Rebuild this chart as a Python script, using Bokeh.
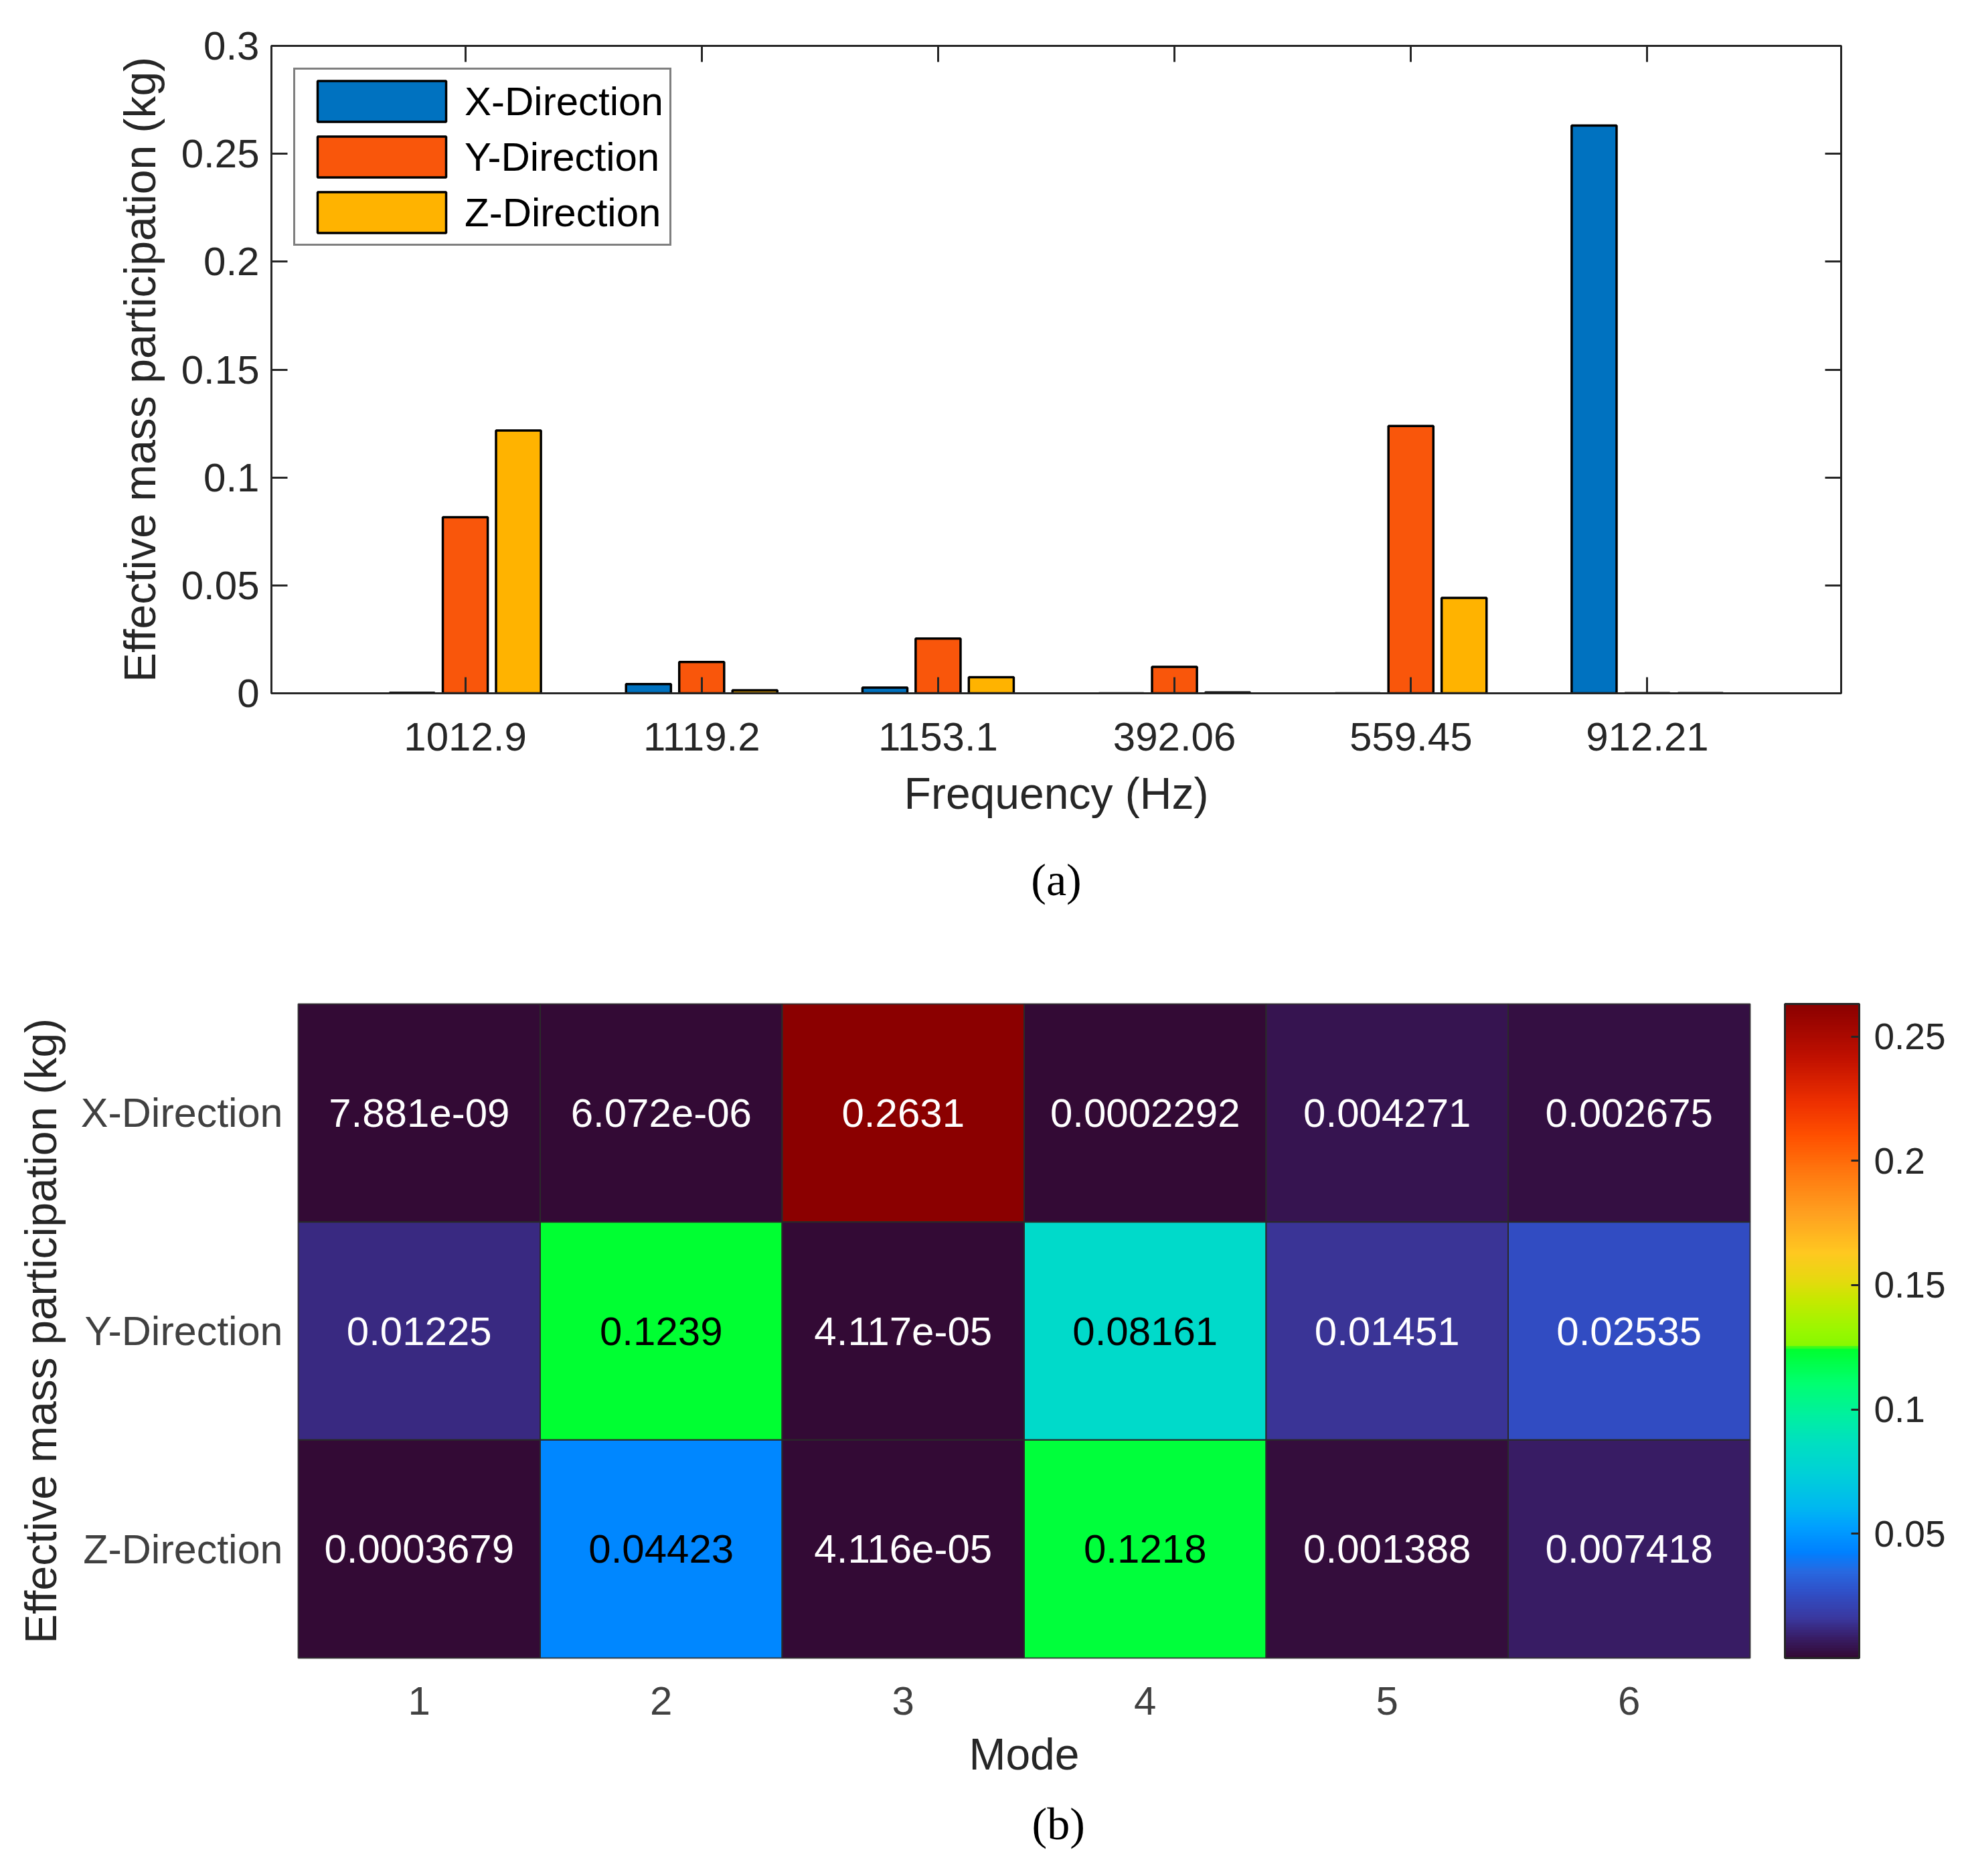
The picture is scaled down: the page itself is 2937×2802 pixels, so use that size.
from bokeh.plotting import figure
from bokeh.models import (ColumnDataSource, FactorRange, Range1d, LinearAxis, CategoricalAxis,
                          FixedTicker, NumeralTickFormatter, LinearColorMapper, ColorBar, Title)
from bokeh.transform import dodge
from bokeh.core.properties import value
from bokeh.embed import file_html
from bokeh.resources import INLINE

# data: effective mass participation per mode
modes = ["1", "2", "3", "4", "5", "6"]
freqs = ["392.06", "559.45", "912.21", "1012.9", "1119.2", "1153.1"]
directions = ["X-Direction", "Y-Direction", "Z-Direction"]
x_mass = [7.881e-09, 6.072e-06, 0.2631, 0.0002292, 0.004271, 0.002675]
y_mass = [0.01225, 0.1239, 4.117e-05, 0.08161, 0.01451, 0.02535]
z_mass = [0.0003679, 0.04423, 4.116e-05, 0.1218, 0.001388, 0.007418]
y_ticks = [0, 0.05, 0.1, 0.15, 0.2, 0.25, 0.3]
cbar_ticks = [0.05, 0.1, 0.15, 0.2, 0.25]

FONT = "Liberation Sans"
SERIF = "Liberation Serif"
INK = "#262626"
bar_colors = ["#0072c0", "#f9560b", "#ffb300"]

# colormap stops (position, color)
stops = [(0.0, "#330a35"), (0.03, "#381e68"), (0.06, "#3a38a0"), (0.10, "#3050c8"),
         (0.13, "#2868e0"), (0.16, "#0080ff"), (0.20, "#00a0ff"), (0.23, "#00b8f0"),
         (0.28, "#00d0d8"), (0.33, "#00e0c0"), (0.37, "#00f0a0"), (0.42, "#00ff70"),
         (0.472, "#00ff30"), (0.478, "#88f800"), (0.50, "#98f800"), (0.55, "#c8e800"),
         (0.58, "#e8d810"), (0.62, "#ffc820"), (0.68, "#ffa020"), (0.74, "#ff7a10"),
         (0.80, "#ff5000"), (0.85, "#ee3000"), (0.92, "#c01000"), (1.0, "#8b0000")]


def hex2rgb(h):
    return [int(h[i:i + 2], 16) for i in (1, 3, 5)]


palette = []
for i in range(256):
    t = i / 255
    for (p0, c0), (p1_, c1) in zip(stops[:-1], stops[1:]):
        if p0 <= t <= p1_:
            f = (t - p0) / (p1_ - p0)
            a, b = hex2rgb(c0), hex2rgb(c1)
            palette.append("#%02x%02x%02x" % tuple(round(a[k] + (b[k] - a[k]) * f) for k in range(3)))
            break


def style_axis(ax, size="60px"):
    ax.major_label_text_font = FONT
    ax.major_label_text_font_size = size
    ax.major_label_text_color = INK
    ax.axis_label_text_font = FONT
    ax.axis_label_text_font_size = "66px"
    ax.axis_label_text_font_style = "normal"
    ax.axis_label_text_color = INK


# ---------------- (a) grouped bars ----------------
p1 = figure(width=2920, height=1400,
            x_range=FactorRange(factors=sorted(freqs), range_padding=0.32, range_padding_units="absolute"),
            y_range=Range1d(0, 0.3),
            output_backend="svg", toolbar_location=None,
            min_border_left=405, min_border_right=170, min_border_top=68, min_border_bottom=360)
p1.background_fill_color = "white"
p1.border_fill_color = "white"
p1.outline_line_color = INK
p1.outline_line_width = 3
p1.grid.visible = False

src = ColumnDataSource(dict(freq=freqs, x=x_mass, y=y_mass, z=z_mass))
for col, off, color, name in zip(["x", "y", "z"], [-0.225, 0.0, 0.225], bar_colors, directions):
    p1.vbar(x=dodge("freq", off, range=p1.x_range), top=col, width=0.19, source=src,
            fill_color=color, line_color="black", line_width=3.5, legend_label=name)

xa = p1.xaxis[0]
ya = p1.yaxis[0]
style_axis(xa)
style_axis(ya)
xa.axis_label = "Frequency (Hz)"
ya.axis_label = "Effective mass participation (kg)"
ya.ticker = FixedTicker(ticks=y_ticks)
ya.formatter = NumeralTickFormatter(format="0.[00]")
for ax in (xa, ya):
    ax.major_tick_in = 24
    ax.major_tick_out = 0
    ax.minor_tick_line_color = None
    ax.axis_line_color = INK
    ax.axis_line_width = 3
    ax.major_tick_line_color = INK
    ax.major_tick_line_width = 3
xa.major_label_standoff = 44
ya.major_label_standoff = 18
xa.axis_label_standoff = 24
ya.axis_label_standoff = 22

# box ticks on top and right, no labels
ra = LinearAxis(ticker=FixedTicker(ticks=y_ticks))
ta = CategoricalAxis()
for ax in (ra, ta):
    ax.major_tick_in = 24
    ax.major_tick_out = 0
    ax.minor_tick_line_color = None
    ax.major_tick_line_color = INK
    ax.major_tick_line_width = 3
    ax.axis_line_color = None
    ax.major_label_text_font_size = "1px"
    ax.major_label_text_color = None
    ax.major_label_standoff = 0
p1.add_layout(ra, "right")
p1.add_layout(ta, "above")

lg = p1.legend[0]
lg.location = "top_left"
lg.margin = 33
lg.padding = 9
lg.spacing = 7
lg.glyph_width = 240
lg.glyph_height = 76
lg.label_height = 76
lg.label_standoff = 4
lg.label_text_font = FONT
lg.label_text_font_size = "60px"
lg.label_text_color = "black"
lg.border_line_color = "black"
lg.border_line_width = 3
lg.background_fill_alpha = 1

p1.add_layout(Title(text="(a)", align="center", text_font=SERIF, text_font_size="68px",
                    text_font_style="normal", text_color="black", standoff=98), "below")

# ---------------- (b) heat map ----------------
low = min(x_mass + y_mass + z_mass)
high = max(x_mass + y_mass + z_mass)
mapper = LinearColorMapper(palette=palette, low=low, high=high)


def text_color(v):
    r, g, b = hex2rgb(palette[min(255, int((v - low) / (high - low) * 256))])
    lin = [(c / 255) ** 2.2 for c in (r, g, b)]
    return "black" if 0.2126 * lin[0] + 0.7152 * lin[1] + 0.0722 * lin[2] > 0.18 else "white"


cm, cd, cv, ct, cc = [], [], [], [], []
for d, vals in zip(directions, [x_mass, y_mass, z_mass]):
    for m, v in zip(modes, vals):
        cm.append(m)
        cd.append(d)
        cv.append(v)
        ct.append(f"{v:.4g}")
        cc.append(text_color(v))
hsrc = ColumnDataSource(dict(mode=cm, dir=cd, val=cv, label=ct, tc=cc))

p2 = figure(width=2920, height=1386,
            x_range=FactorRange(factors=modes), y_range=FactorRange(factors=directions[::-1]),
            output_backend="svg", toolbar_location=None,
            min_border_left=445, min_border_right=306, min_border_top=99, min_border_bottom=310)
p2.background_fill_color = "white"
p2.border_fill_color = "white"
p2.outline_line_color = "#555555"
p2.outline_line_width = 2
p2.grid.visible = False

p2.rect(x="mode", y="dir", width=1, height=1, source=hsrc,
        fill_color={"field": "val", "transform": mapper}, line_color="#2a2a2a", line_width=2)
p2.text(x="mode", y="dir", text="label", source=hsrc, text_color="tc",
        text_align="center", text_baseline="middle",
        text_font=value(FONT), text_font_size="60px")

for ax in (p2.xaxis[0], p2.yaxis[0]):
    style_axis(ax)
    ax.major_tick_line_color = None
    ax.minor_tick_line_color = None
    ax.axis_line_color = None
    ax.major_label_text_color = "#404040"
p2.yaxis[0].major_label_text_font_size = "61px"
p2.xaxis[0].axis_label = "Mode"
p2.yaxis[0].axis_label = "Effective mass participation (kg)"
p2.xaxis[0].major_label_standoff = 37
p2.yaxis[0].major_label_standoff = 17
p2.xaxis[0].axis_label_standoff = 19
p2.yaxis[0].axis_label_standoff = 20

cb = ColorBar(color_mapper=mapper, ticker=FixedTicker(ticks=cbar_ticks),
              formatter=NumeralTickFormatter(format="0.[00]"),
              width=111, height=977, location=(52, 0), margin=0, padding=0,
              bar_line_color=INK, bar_line_width=3,
              major_tick_line_color=INK, major_tick_line_width=3,
              major_tick_in=12, major_tick_out=0, minor_tick_line_color=None,
              label_standoff=22, major_label_text_font=FONT,
              major_label_text_font_size="55px", major_label_text_color=INK,
              background_fill_alpha=0)
p2.add_layout(cb, "right")

p2.add_layout(Title(text="(b)", align="left", offset=1096, text_font=SERIF, text_font_size="68px",
                    text_font_style="normal", text_color="black", standoff=48), "below")

# two separate roots so the frames are not aligned with each other
open("out.html", "w").write(file_html([p1, p2], INLINE))
